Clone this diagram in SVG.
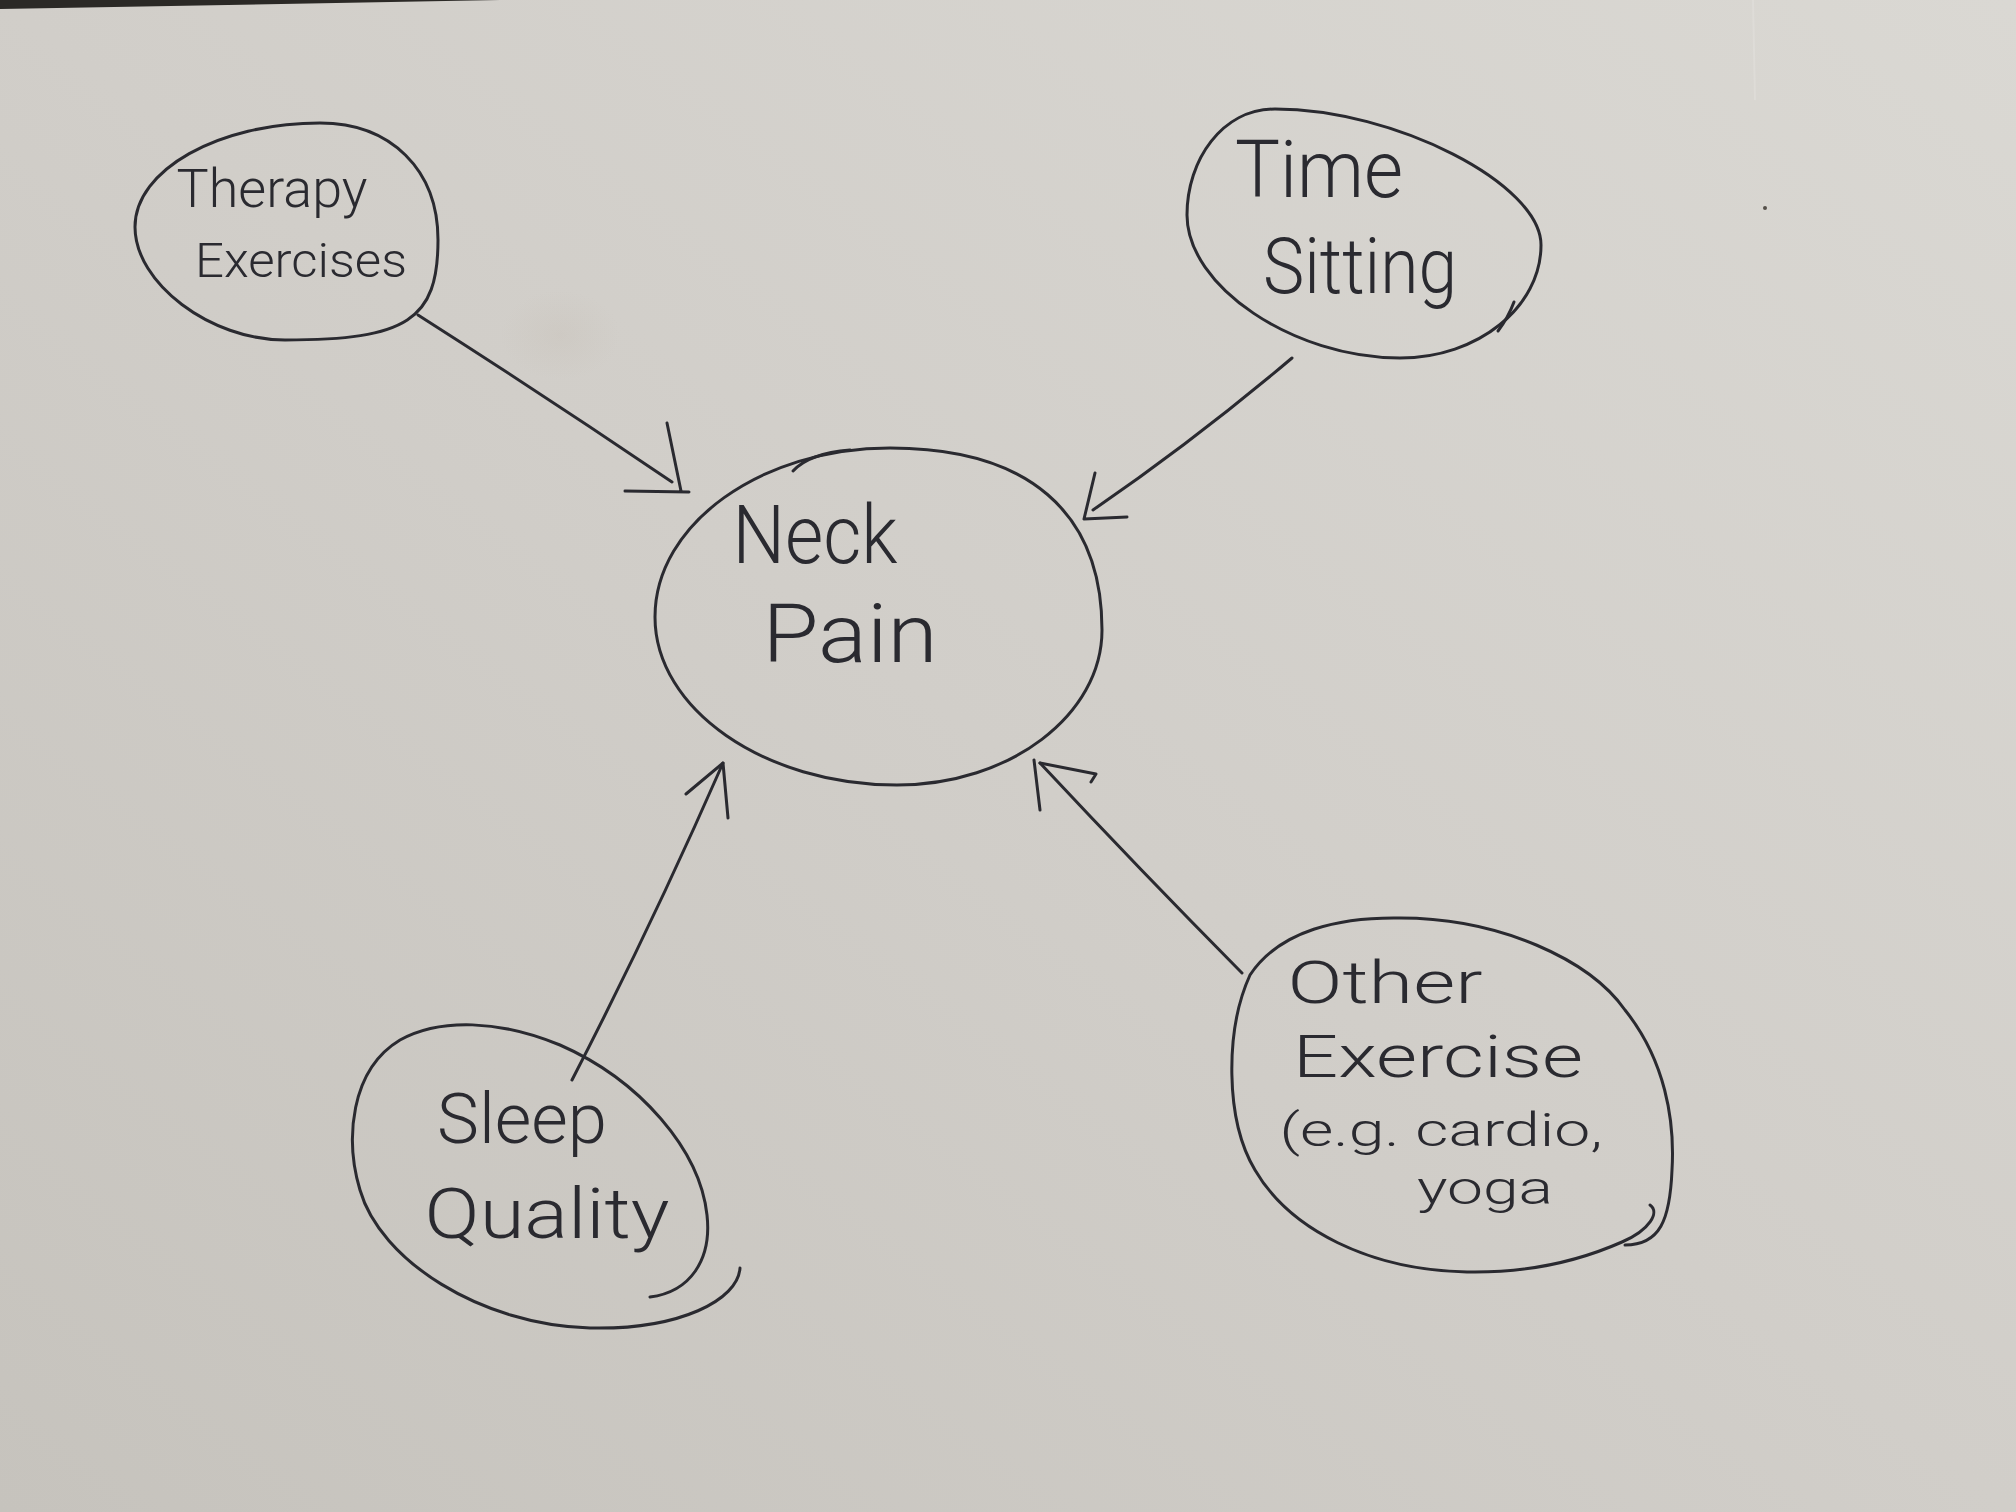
<svg xmlns="http://www.w3.org/2000/svg" width="2016" height="1512" viewBox="0 0 2016 1512">
  <defs>
    <linearGradient id="paper" x1="1" y1="0" x2="0" y2="1">
      <stop offset="0" stop-color="#dad8d3"/>
      <stop offset="0.5" stop-color="#d1cec9"/>
      <stop offset="1" stop-color="#c6c3bd"/>
    </linearGradient>
    <radialGradient id="stain" cx="0.5" cy="0.5" r="0.5">
      <stop offset="0" stop-color="#bfb6ab" stop-opacity="0.2"/>
      <stop offset="1" stop-color="#bfb6ab" stop-opacity="0"/>
    </radialGradient>
    <style>
      .ink { fill: none; stroke: #2a2a30; stroke-width: 3; stroke-linecap: round; stroke-linejoin: round; }
      .lbl { font-family: Roboto, "Open Sans", "Liberation Sans", Arial, sans-serif; font-weight: 300; fill: #2a2a30; text-anchor: middle; }
    </style>
  </defs>

  <!-- sheet of paper -->
  <rect width="2016" height="1512" fill="url(#paper)"/>
  <ellipse cx="560" cy="335" rx="60" ry="45" fill="url(#stain)"/>
  <polygon points="0,0 500,0 0,9" fill="#2b2926"/>
  <line x1="1753" y1="0" x2="1755" y2="100" stroke="#e2e0dc" stroke-width="2" opacity="0.6"/>
  <circle cx="1765" cy="208" r="2" fill="#55504a"/>

  <!-- arrows -->
  <g id="connectors" class="ink">
    <path d="M418,315 Q545,396 672,482"/>
    <path d="M667,423 L681,491 M625,491 L689,492"/>
    <path d="M1292,358 Q1195,440 1093,510"/>
    <path d="M1095,473 L1084,519 L1127,517"/>
    <path d="M572,1080 Q652,925 723,763"/>
    <path d="M686,794 L723,763 L728,818"/>
    <path d="M1242,973 Q1140,870 1040,763"/>
    <path d="M1034,760 L1040,810 M1040,763 L1096,774 L1091,782"/>
  </g>

  <g id="therapy-exercises">
    <path class="ink" d="M320,123 C391,123 438,170 438,240 C438,320 407,340 285,340 C210,340 135,283 135,227 C135,170 218,123 320,123 Z"/>
    <text class="lbl" x="272" y="207" font-size="54" textLength="191" lengthAdjust="spacingAndGlyphs">Therapy</text>
    <text class="lbl" x="301" y="277" font-size="48" textLength="212" lengthAdjust="spacingAndGlyphs">Exercises</text>
  </g>

  <g id="time-sitting">
    <path class="ink" d="M1275,109 C1395,109 1541,184 1541,245 C1541,307 1478,358 1400,358 C1293,358 1187,286 1187,215 C1187,160 1222,109 1275,109 Z"/>
    <path class="ink" d="M1498,331 Q1508,318 1514,302"/>
    <text class="lbl" x="1319" y="197" font-size="80" textLength="168" lengthAdjust="spacingAndGlyphs">Time</text>
    <text class="lbl" x="1360" y="293" font-size="78" textLength="194" lengthAdjust="spacingAndGlyphs">Sitting</text>
  </g>

  <g id="neck-pain">
    <path class="ink" d="M890,448 C1028,448 1102,512 1102,630 C1102,715 1010,785 897,785 C764,785 655,709 655,617 C655,524 761,448 890,448 Z"/>
    <path class="ink" d="M793,471 C805,458 825,452 850,450"/>
    <text class="lbl" x="815" y="563" font-size="82" textLength="165" lengthAdjust="spacingAndGlyphs">Neck</text>
    <text class="lbl" x="850" y="662" font-size="82" textLength="175" lengthAdjust="spacingAndGlyphs">Pain</text>
  </g>

  <g id="sleep-quality">
    <path class="ink" d="M740,1268 C738,1300 680,1330 590,1328 C480,1325 380,1260 360,1190 C345,1140 350,1070 400,1040 C440,1018 500,1020 560,1045 C640,1080 700,1150 707,1215 C712,1260 690,1292 650,1297"/>
    <text class="lbl" x="522" y="1143" font-size="70" textLength="170" lengthAdjust="spacingAndGlyphs">Sleep</text>
    <text class="lbl" x="547" y="1238" font-size="70" textLength="245" lengthAdjust="spacingAndGlyphs">Quality</text>
  </g>

  <g id="other-exercise">
    <path class="ink" d="M1650,1205 C1660,1212 1650,1230 1622,1242 C1570,1265 1520,1273 1467,1272 C1370,1270 1290,1230 1255,1170 C1225,1120 1225,1030 1250,975 C1280,930 1340,917 1400,918 C1500,918 1590,960 1625,1010 C1665,1060 1675,1120 1672,1170 C1670,1220 1660,1245 1625,1245"/>
    <text class="lbl" x="1385" y="1003" font-size="60" textLength="195" lengthAdjust="spacingAndGlyphs">Other</text>
    <text class="lbl" x="1438" y="1077" font-size="60" textLength="290" lengthAdjust="spacingAndGlyphs">Exercise</text>
    <text class="lbl" x="1441" y="1146" font-size="46" textLength="323" lengthAdjust="spacingAndGlyphs">(e.g. cardio,</text>
    <text class="lbl" x="1485" y="1204" font-size="46" textLength="136" lengthAdjust="spacingAndGlyphs">yoga</text>
  </g>
</svg>
